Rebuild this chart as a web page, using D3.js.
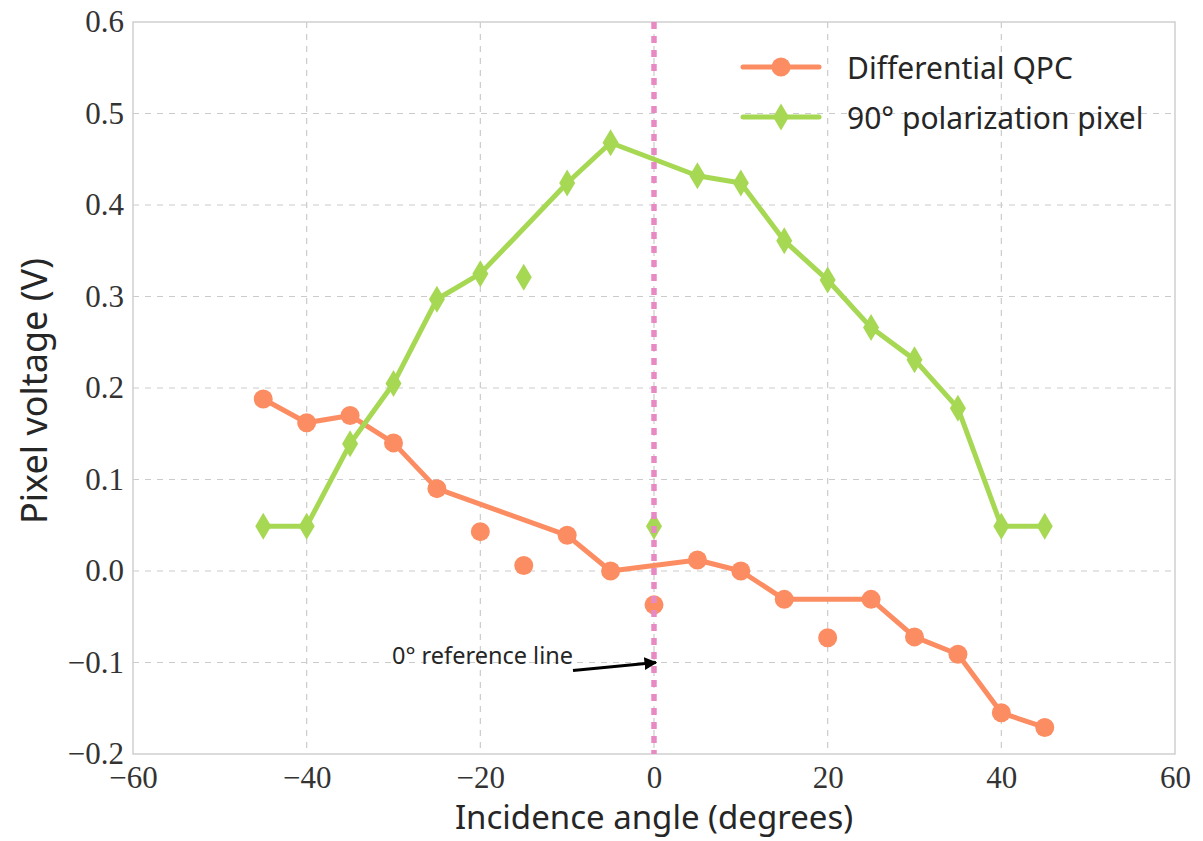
<!DOCTYPE html>
<html>
<head>
<meta charset="utf-8">
<script src="https://cdn.jsdelivr.net/npm/d3@7"></script>
<style>
  html, body { margin: 0; padding: 0; background: #fff; }
  svg { display: block; }
  .tick text { font-family: "Liberation Serif", "DejaVu Serif", serif; fill: #333; }
  .sans { font-family: "Noto Sans", "DejaVu Sans", sans-serif; fill: #262626; }
</style>
</head>
<body>
<svg id="chart" width="1203" height="841"></svg>
<script>
// Incidence angles (degrees)
const angles = [-45, -40, -35, -30, -25, -20, -15, -10, -5, 0, 5, 10, 15, 20, 25, 30, 35, 40, 45];

// Differential QPC output (V)
const qpcValues = [0.188, 0.162, 0.170, 0.140, 0.090, 0.043, 0.006, 0.039, 0.000, -0.037,
                   0.012, 0.000, -0.031, -0.073, -0.031, -0.072, -0.091, -0.155, -0.171];
// Angles whose QPC samples are plotted as markers only (not joined by the line)
const qpcUnjoined = [-20, -15, 0, 20];

// 90° polarization pixel output (V)
const pixelValues = [0.049, 0.049, 0.139, 0.205, 0.297, 0.325, 0.321, 0.424, 0.468, 0.049,
                     0.432, 0.424, 0.361, 0.318, 0.266, 0.231, 0.178, 0.049, 0.049];
const pixelUnjoined = [-15, 0];

const xTicks = [-60, -40, -20, 0, 20, 40, 60];
const yTicks = [-0.2, -0.1, 0.0, 0.1, 0.2, 0.3, 0.4, 0.5, 0.6];

const seriesNames = ["Differential QPC", "90\u00B0 polarization pixel"];
const axisTitles = { x: "Incidence angle (degrees)", y: "Pixel voltage (V)" };
const annotationText = "0\u00B0 reference line";
const annotationTarget = { angle: 0, value: -0.1 };

const colors = { qpc: "#fc8d62", pixel: "#a6d854", ref: "#e78ac3", grid: "#cbcbcb", frame: "#cfcfcf" };

const svg = d3.select("#chart");
const plot = { left: 133, right: 1175, top: 22, bottom: 754 };

const x = d3.scaleLinear().domain([-60, 60]).range([plot.left, plot.right]);
const y = d3.scaleLinear().domain([-0.2, 0.6]).range([plot.bottom, plot.top]);

const fmtX = d => d < 0 ? "\u2212" + Math.abs(d) : String(d);
const fmtY = d => d < 0 ? "\u2212" + Math.abs(d).toFixed(1) : d.toFixed(1);

// Dashed grid
const grid = svg.append("g");
grid.selectAll("line.vg").data(xTicks.slice(1, -1)).enter().append("line")
  .attr("x1", d => x(d)).attr("x2", d => x(d))
  .attr("y1", plot.top).attr("y2", plot.bottom)
  .attr("stroke", colors.grid).attr("stroke-width", 1.2).attr("stroke-dasharray", "6,6");
grid.selectAll("line.hg").data(yTicks.slice(1, -1)).enter().append("line")
  .attr("x1", plot.left).attr("x2", plot.right)
  .attr("y1", d => y(d)).attr("y2", d => y(d))
  .attr("stroke", colors.grid).attr("stroke-width", 1.2).attr("stroke-dasharray", "6,6");

// Axes (labels only; the frame is drawn separately)
const xAxis = svg.append("g").attr("transform", `translate(0,${plot.bottom})`)
  .call(d3.axisBottom(x).tickValues(xTicks).tickFormat(fmtX).tickSize(0).tickPadding(12));
const yAxis = svg.append("g").attr("transform", `translate(${plot.left},0)`)
  .call(d3.axisLeft(y).tickValues(yTicks).tickFormat(fmtY).tickSize(0).tickPadding(9));
[xAxis, yAxis].forEach(a => {
  a.select(".domain").remove();
  a.selectAll(".tick text").attr("font-size", 31).attr("fill", "#333");
});

// Frame
svg.append("rect")
  .attr("x", plot.left).attr("y", plot.top)
  .attr("width", plot.right - plot.left).attr("height", plot.bottom - plot.top)
  .attr("fill", "none").attr("stroke", colors.frame).attr("stroke-width", 1.5);

// Series
function drawSeries(values, unjoined, color, shape) {
  const pts = angles.map((a, i) => ({ a, v: values[i] }));
  const joined = pts.filter(p => !unjoined.includes(p.a));
  svg.append("path").datum(joined)
    .attr("fill", "none").attr("stroke", color).attr("stroke-width", 5)
    .attr("stroke-linejoin", "round")
    .attr("d", d3.line().x(p => x(p.a)).y(p => y(p.v)));
  const g = svg.append("g").attr("fill", color);
  if (shape === "circle") {
    g.selectAll("circle").data(pts).enter().append("circle")
      .attr("cx", p => x(p.a)).attr("cy", p => y(p.v)).attr("r", 9.5);
  } else {
    g.selectAll("path").data(pts).enter().append("path")
      .attr("d", "M0,-13.5L8,0L0,13.5L-8,0Z")
      .attr("transform", p => `translate(${x(p.a)},${y(p.v)})`);
  }
}
drawSeries(qpcValues, qpcUnjoined, colors.qpc, "circle");
drawSeries(pixelValues, pixelUnjoined, colors.pixel, "diamond");

// Dotted 0° reference line
svg.append("line")
  .attr("x1", x(0)).attr("x2", x(0))
  .attr("y1", plot.top).attr("y2", plot.bottom)
  .attr("stroke", colors.ref).attr("stroke-width", 5.5).attr("stroke-dasharray", "7,7");

// Annotation with arrow
svg.append("defs").append("marker")
  .attr("id", "arrowhead").attr("viewBox", "0 0 10 10")
  .attr("refX", 9).attr("refY", 5)
  .attr("markerWidth", 4).attr("markerHeight", 4)
  .attr("markerUnits", "strokeWidth").attr("orient", "auto")
  .append("path").attr("d", "M0,0L10,5L0,10Z").attr("fill", "#000");
svg.append("line")
  .attr("x1", 573).attr("y1", y(annotationTarget.value) + 8)
  .attr("x2", x(annotationTarget.angle) + 2).attr("y2", y(annotationTarget.value))
  .attr("stroke", "#000").attr("stroke-width", 3.2)
  .attr("marker-end", "url(#arrowhead)");
svg.append("text").attr("class", "sans")
  .attr("x", 573).attr("y", y(annotationTarget.value) + 1)
  .attr("text-anchor", "end").attr("font-size", 23.5)
  .text(annotationText);

// Legend
const legend = svg.append("g");
const legendRows = [
  { name: seriesNames[0], color: colors.qpc, shape: "circle", cy: 67 },
  { name: seriesNames[1], color: colors.pixel, shape: "diamond", cy: 117 }
];
legendRows.forEach(r => {
  legend.append("line").attr("x1", 743).attr("x2", 819).attr("y1", r.cy).attr("y2", r.cy)
    .attr("stroke", r.color).attr("stroke-width", 5).attr("stroke-linecap", "round");
  if (r.shape === "circle") {
    legend.append("circle").attr("cx", 781).attr("cy", r.cy).attr("r", 9.5).attr("fill", r.color);
  } else {
    legend.append("path").attr("d", "M0,-13.5L8,0L0,13.5L-8,0Z")
      .attr("transform", `translate(781,${r.cy})`).attr("fill", r.color);
  }
  legend.append("text").attr("class", "sans")
    .attr("x", 847).attr("y", r.cy + 12).attr("font-size", 30)
    .text(r.name);
});

// Axis titles
svg.append("text").attr("class", "sans")
  .attr("x", 654).attr("y", 829)
  .attr("text-anchor", "middle").attr("font-size", 33)
  .text(axisTitles.x);
svg.append("text").attr("class", "sans")
  .attr("transform", `translate(47,${391}) rotate(-90)`)
  .attr("text-anchor", "middle").attr("font-size", 36)
  .text(axisTitles.y);
</script>
</body>
</html>
